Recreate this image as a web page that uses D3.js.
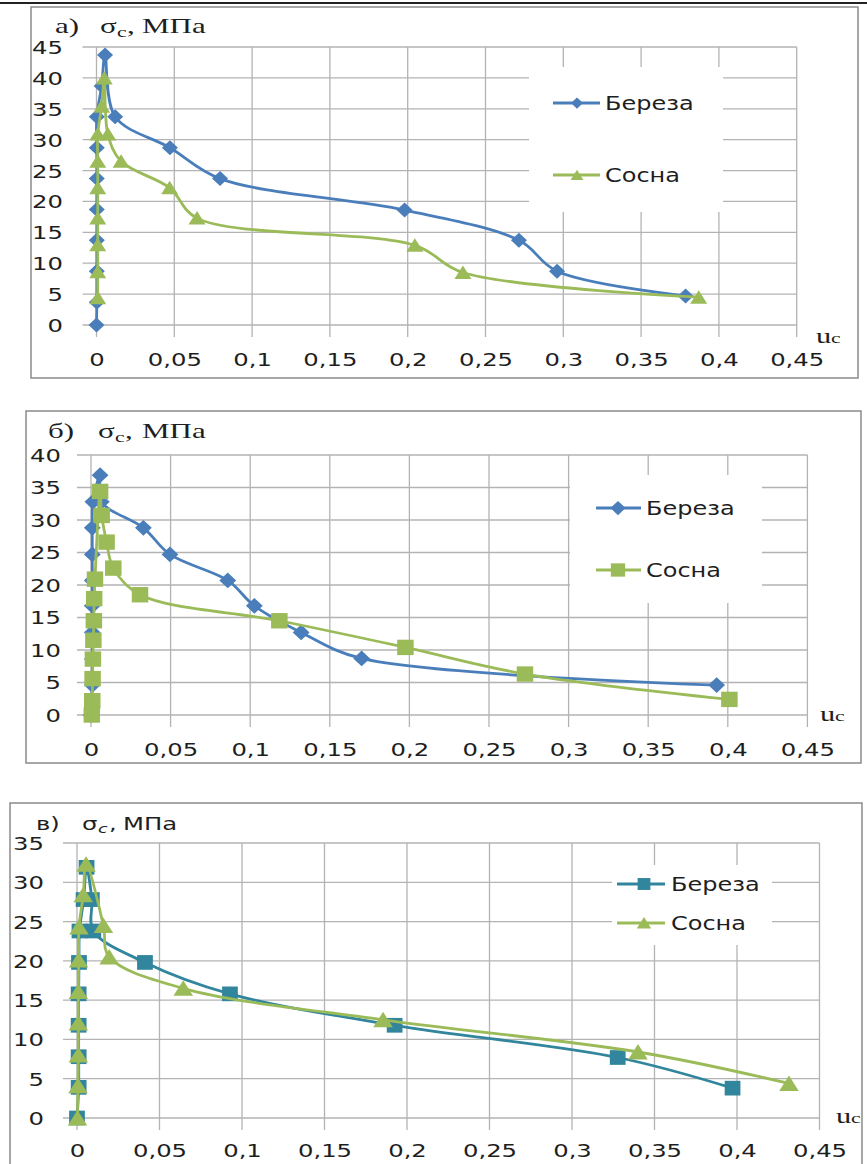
<!DOCTYPE html>
<html><head><meta charset="utf-8">
<script src="https://cdn.jsdelivr.net/npm/d3@7"></script>
<style>body{margin:0;background:#fff}svg{display:block}</style>
</head><body><svg id="c" width="867" height="1164"></svg>
<script>
// ---------- DATA ----------
const xTicks = [0, 0.05, 0.1, 0.15, 0.2, 0.25, 0.3, 0.35, 0.4, 0.45];
const xTickLabels = ["0", "0,05", "0,1", "0,15", "0,2", "0,25", "0,3", "0,35", "0,4", "0,45"];
const yTicksA = [0, 5, 10, 15, 20, 25, 30, 35, 40, 45];
const yTicksB = [0, 5, 10, 15, 20, 25, 30, 35, 40];
const yTicksC = [0, 5, 10, 15, 20, 25, 30, 35];
const seriesNames = ["Береза", "Сосна"];
const panelLetters = ["а)", "б)", "в)"];
const yAxisTitle = ["σ", "с", ", МПа"];
const xAxisTitle = ["u", "c"];

// panel а
const aBirchU = [0.0000,0.0002,0.0002,0.0002,0.0002,0.0002,0.0002,0.0002,0.0033,0.0055,0.0120,0.0472,0.0794,0.1980,0.2715,0.2960,0.3786];
const aBirchS = [0,3.7,8.7,13.7,18.7,23.7,28.7,33.7,38.7,43.7,33.7,28.7,23.7,18.6,13.7,8.7,4.7];
const aPineU  = [0.0008,0.0008,0.0008,0.0008,0.0008,0.0008,0.0008,0.0033,0.0050,0.0073,0.0158,0.0470,0.0646,0.2046,0.2355,0.3870];
const aPineS  = [4.4,8.6,13.0,17.3,22.2,26.5,30.9,35.4,40.0,30.9,26.5,22.2,17.3,12.9,8.5,4.5];
// panel б
const bBirchU = [0.0000,0.0008,0.0008,0.0008,0.0008,0.0008,0.0008,0.0008,0.0012,0.0057,0.0065,0.0329,0.0496,0.0859,0.1026,0.1320,0.1700,0.3930];
const bBirchS = [0,4.6,8.6,12.7,16.8,20.7,24.7,28.8,32.8,36.9,32.8,28.8,24.7,20.7,16.8,12.7,8.7,4.6];
const bPineU  = [0.0005,0.0008,0.0010,0.0012,0.0015,0.0018,0.0020,0.0025,0.0057,0.0067,0.0098,0.0140,0.0308,0.1183,0.1975,0.2726,0.4010];
const bPineS  = [0,2.2,5.6,8.6,11.5,14.5,17.9,20.9,34.4,30.7,26.6,22.6,18.5,14.5,10.4,6.3,2.4];
// panel в
const cBirchU = [0.0000,0.0010,0.0010,0.0010,0.0010,0.0012,0.0015,0.0040,0.0058,0.0090,0.0099,0.0412,0.0927,0.1925,0.3277,0.3973];
const cBirchS = [0,3.9,7.8,11.8,15.8,19.8,23.8,27.8,31.9,27.8,23.8,19.8,15.8,11.8,7.7,3.8];
const cPineU  = [0.0003,0.0006,0.0008,0.0008,0.0008,0.0010,0.0012,0.0038,0.0055,0.0160,0.0195,0.0644,0.1855,0.3400,0.4315];
const cPineS  = [0,4.1,8.0,12.1,16.1,20.1,24.3,28.4,32.3,24.5,20.5,16.5,12.5,8.4,4.4];

// ---------- STYLE / LAYOUT ----------
const BLUE = "#4a7ebb", GREEN = "#9bbb59", TEAL = "#31859c", GRID = "#b3b3b3", TXT = "#1e1e1e";
const SHAPES = {
  diamond: s => `M0,${-7.5*s}L${8*s},0L0,${7.5*s}L${-8*s},0Z`,
  triangle: s => `M0,${-7*s}L${8.5*s},${6.5*s}L${-8.5*s},${6.5*s}Z`,
  square: s => `M${-7.5*s},${-7*s}L${7.5*s},${-7*s}L${7.5*s},${7*s}L${-7.5*s},${7*s}Z`
};

const panels = [
  { frame:[31,7,827,371], x0:96.5, x1:796.7, y0:325, y1:47, yMax:45, yTicks:yTicksA, yLabRight:63, xLabDy:41,
    titleSerif:true, title:{letterX:55, sigmaX:100, mpaX:142, base:33},
    xt:{x:816, base:343},
    legendBox:[529,67,194,145], legend:{lx1:553, lx2:600, mx:577, tx:605, ys:[103,175], ms:0.75},
    series:[{u:aBirchU,s:aBirchS,color:BLUE,shape:"diamond",ms:1},{u:aPineU,s:aPineS,color:GREEN,shape:"triangle",ms:1}] },
  { frame:[26,411,835,352], x0:91, x1:807.4, y0:715, y1:455, yMax:40, yTicks:yTicksB, yLabRight:61, xLabDy:41,
    titleSerif:true, title:{letterX:48, sigmaX:98, mpaX:142, base:438},
    xt:{x:820, base:721},
    legendBox:[570,475,192,128], legend:{lx1:596, lx2:641, mx:618, tx:646, ys:[508,570], ms:0.95},
    series:[{u:bBirchU,s:bBirchS,color:BLUE,shape:"diamond",ms:1.05},{u:bPineU,s:bPineS,color:GREEN,shape:"square",ms:1.1}] },
  { frame:[10,803,852,380], x0:77, x1:819.5, y0:1118, y1:843, yMax:35, yTicks:yTicksC, yLabRight:44, xLabDy:39,
    titleSerif:false, title:{letterX:36, sigmaX:82, mpaX:123, base:830},
    xt:{x:836, base:1123},
    legendBox:[612,865,160,80], legend:{lx1:617, lx2:665, mx:644, tx:671, ys:[884,923], ms:0.85},
    series:[{u:cBirchU,s:cBirchS,color:TEAL,shape:"square",ms:1.05},{u:cPineU,s:cPineS,color:GREEN,shape:"triangle",ms:1.15}] }
];

const svg = d3.select("#c");
svg.append("line").attr("x1",0).attr("x2",867).attr("y1",3).attr("y2",3).attr("stroke","#222").attr("stroke-width",2);

function stext(g, x, y, txt, o) {
  return g.append("text")
    .attr("transform", `translate(${x},${y}) scale(${o.sx||1},1)`)
    .attr("font-family", o.font).attr("font-size", o.size)
    .attr("font-style", o.style || null)
    .attr("fill", TXT).attr("text-anchor", o.anchor || "start").text(txt);
}

panels.forEach((p, pi) => {
  const g = svg.append("g");
  g.append("rect").attr("x",p.frame[0]).attr("y",p.frame[1]).attr("width",p.frame[2]).attr("height",p.frame[3])
    .attr("fill","#fff").attr("stroke","#8a8a8a").attr("stroke-width",1.5);

  const x = d3.scaleLinear().domain([0,0.45]).range([p.x0,p.x1]);
  const y = d3.scaleLinear().domain([0,p.yMax]).range([p.y0,p.y1]);

  // grid lines with cross ticks
  g.append("g").selectAll("line").data(p.yTicks).join("line")
    .attr("x1",p.x0-14).attr("x2",p.x1).attr("y1",d=>y(d)).attr("y2",d=>y(d))
    .attr("stroke",GRID).attr("stroke-width",1.3);
  g.append("g").selectAll("line").data(xTicks).join("line")
    .attr("x1",d=>x(d)).attr("x2",d=>x(d)).attr("y1",y(p.yMax)).attr("y2",p.y0+12)
    .attr("stroke",GRID).attr("stroke-width",1.3);

  // axis labels
  const sxTick = 1.35;
  const ya = g.append("g").attr("transform",`translate(${p.x0},0)`)
    .call(d3.axisLeft(y).tickValues(p.yTicks).tickSize(0).tickPadding((p.x0-p.yLabRight)/sxTick).tickFormat(d=>String(d)));
  ya.select(".domain").remove();
  ya.selectAll("text").attr("font-family","DejaVu Sans").attr("font-size",18).attr("fill",TXT)
    .attr("dy","0.36em").attr("transform",`scale(${sxTick},1)`);

  const xa = g.append("g").attr("transform",`translate(0,${p.y0})`)
    .call(d3.axisBottom(x).tickValues(xTicks).tickSize(0).tickFormat((d,i)=>xTickLabels[i]));
  xa.select(".domain").remove();
  xa.selectAll("text").attr("font-family","DejaVu Sans").attr("font-size",18).attr("fill",TXT)
    .attr("y",p.xLabDy).attr("dy",0).attr("transform",`scale(${sxTick},1)`);

  // title
  const t = p.title;
  if (p.titleSerif) {
    const o = {font:"Liberation Serif", size:20, sx:1.55};
    stext(g, t.letterX, t.base, panelLetters[pi], o);
    stext(g, t.sigmaX, t.base, yAxisTitle[0], o);
    stext(g, t.sigmaX+17, t.base+4, yAxisTitle[1], {font:"Liberation Serif", size:14, sx:1.55});
    stext(g, t.sigmaX+27, t.base, ",", o);
    stext(g, t.mpaX, t.base, "МПа", o);
  } else {
    const o = {font:"DejaVu Sans", size:18, sx:1.35};
    stext(g, t.letterX, t.base, panelLetters[pi], o);
    stext(g, t.sigmaX, t.base, yAxisTitle[0], o);
    stext(g, t.sigmaX+16, t.base+3, yAxisTitle[1], {font:"DejaVu Sans", size:13, sx:1.35, style:"italic"});
    stext(g, t.sigmaX+27, t.base, ",", o);
    stext(g, t.mpaX, t.base, "МПа", o);
  }
  // x axis title
  stext(g, p.xt.x, p.xt.base, xAxisTitle[0], {font:"Liberation Serif", size:21, sx:1.45});
  stext(g, p.xt.x+15, p.xt.base, xAxisTitle[1], {font:"Liberation Serif", size:15, sx:1.45});

  // legend box (white, hides grid)
  g.append("rect").attr("x",p.legendBox[0]).attr("y",p.legendBox[1]).attr("width",p.legendBox[2]).attr("height",p.legendBox[3]).attr("fill","#fff");

  // series
  const line = d3.line().x(d=>x(d[0])).y(d=>y(d[1])).curve(d3.curveCatmullRom.alpha(0.5));
  p.series.forEach(se => {
    const pts = se.u.map((u,i)=>[u, se.s[i]]);
    g.append("path").datum(pts).attr("d",line).attr("fill","none")
      .attr("stroke",se.color).attr("stroke-width",2.8).attr("stroke-linejoin","round");
    g.append("g").selectAll("path").data(pts).join("path")
      .attr("transform",d=>`translate(${x(d[0])},${y(d[1])})`)
      .attr("d",SHAPES[se.shape](se.ms)).attr("fill",se.color);
  });

  // legend entries
  p.series.forEach((se, i) => {
    const ly = p.legend.ys[i];
    g.append("line").attr("x1",p.legend.lx1).attr("x2",p.legend.lx2).attr("y1",ly).attr("y2",ly)
      .attr("stroke",se.color).attr("stroke-width",2.8);
    g.append("path").attr("transform",`translate(${p.legend.mx},${ly})`)
      .attr("d",SHAPES[se.shape](p.legend.ms)).attr("fill",se.color);
    stext(g, p.legend.tx, ly+7, seriesNames[i], {font:"DejaVu Sans", size:20, sx:1.2});
  });
});
</script></body></html>
